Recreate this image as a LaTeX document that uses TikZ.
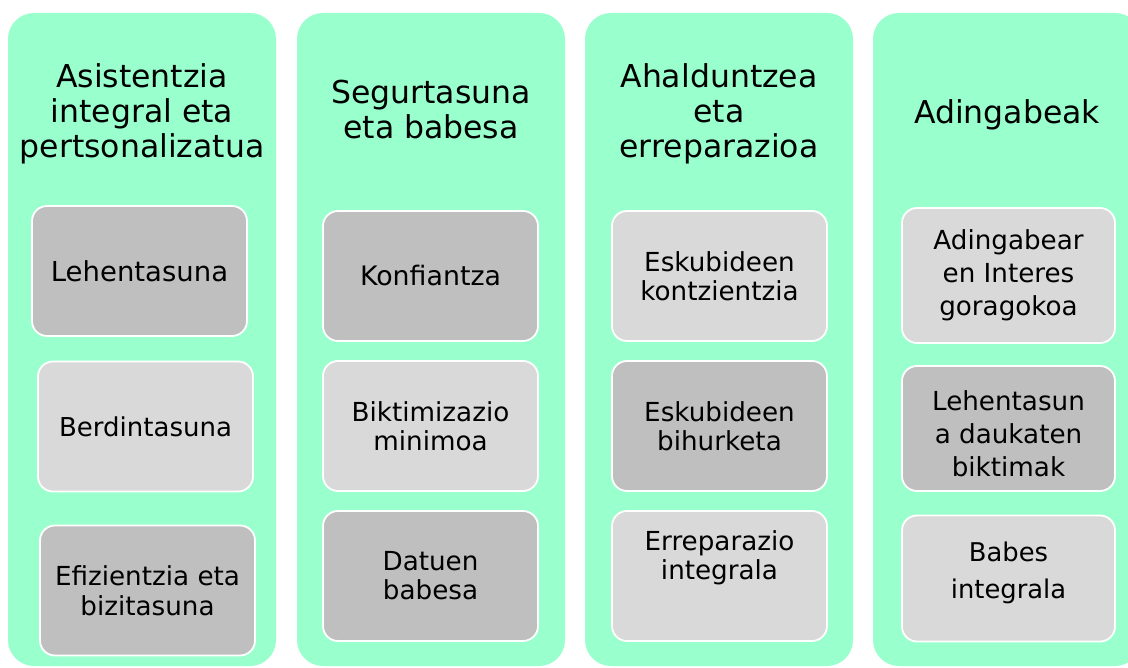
\documentclass[tikz,border=0pt]{standalone}
\usepackage{fontspec}
\setmainfont{DejaVu Sans}
\usetikzlibrary{positioning}
\definecolor{mint}{RGB}{153,255,204}
\definecolor{greydark}{RGB}{191,191,191}
\definecolor{greylight}{RGB}{217,217,217}
\tikzstyle{column} = [rectangle, rounded corners=26pt, minimum width=268pt, minimum height=653pt, fill=mint, inner sep=0pt]
\tikzstyle{heading} = [align=center, inner sep=0pt, font=\fontsize{31.5}{35}\selectfont]
\tikzstyle{item} = [rectangle, rounded corners=15pt, minimum width=215pt, minimum height=130pt, draw=white, line width=1.8pt, align=center, inner sep=0pt, font=\fontsize{26.2}{29}\selectfont]
\tikzstyle{darkitem} = [item, fill=greydark]
\tikzstyle{lightitem} = [item, fill=greylight]

\begin{document}
\begin{tikzpicture}[x=1pt, y=1pt, node distance=150pt]
\useasboundingbox (0,0) rectangle (1128,-668);
\clip (0,0) rectangle (1128,-668);
% columns
\node (c1) [column] at (142,-339.5) {};
\node (c2) [column] at (431,-339.5) {};
\node (c3) [column] at (719,-339.5) {};
\node (c4) [column] at (1007,-339.5) {};
% headings
\node (t1) [heading] at (142,-114) {Asistentzia\\integral eta\\pertsonalizatua};
\node (t2) [heading] at (431,-110) {Segurtasuna\\eta babesa};
\node (t3) [heading] at (719,-114) {Ahalduntzea\\eta\\erreparazioa};
\node (t4) [heading] at (1007,-115) {Adingabeak};
% first column
\node (b11) [darkitem, font=\fontsize{27.5}{33}\selectfont] at (139.5,-271) {Lehentasuna};
\node (b12) [lightitem, font=\fontsize{26}{31}\selectfont, below of=b11, xshift=6pt, yshift=-5.5pt] {Berdintasuna};
\node (b13) [darkitem, font=\fontsize{26.2}{30}\selectfont, below of=b12, xshift=2pt, yshift=-14pt] {Efizientzia eta\\bizitasuna};
% second column
\node (b21) [darkitem, font=\fontsize{26.8}{31}\selectfont] at (430.5,-276) {Konfiantza};
\node (b22) [lightitem, below of=b21] {Biktimizazio\\minimoa};
\node (b23) [darkitem, below of=b22] {Datuen\\babesa};
% third column
\node (b31) [lightitem] at (719.5,-276) {Eskubideen\\kontzientzia};
\node (b32) [darkitem, below of=b31] {Eskubideen\\bihurketa};
\node (b33) [lightitem, below of=b32, text depth=42pt] {Erreparazio\\integrala};
% fourth column
\node (b41) [lightitem, minimum width=213pt, minimum height=135pt, font=\fontsize{26.2}{33}\selectfont] at (1008.5,-275.5) {Adingabear\\en Interes\\goragokoa};
\node (b42) [darkitem, minimum width=213pt, minimum height=125pt, font=\fontsize{26.2}{33}\selectfont, below of=b41, yshift=-3pt, text height=96pt] {Lehentasun\\a daukaten\\biktimak};
\node (b43) [lightitem, minimum width=213pt, minimum height=126pt, font=\fontsize{25.8}{37}\selectfont, below of=b42, text depth=16pt] {Babes\\integrala};
\end{tikzpicture}
\end{document}
